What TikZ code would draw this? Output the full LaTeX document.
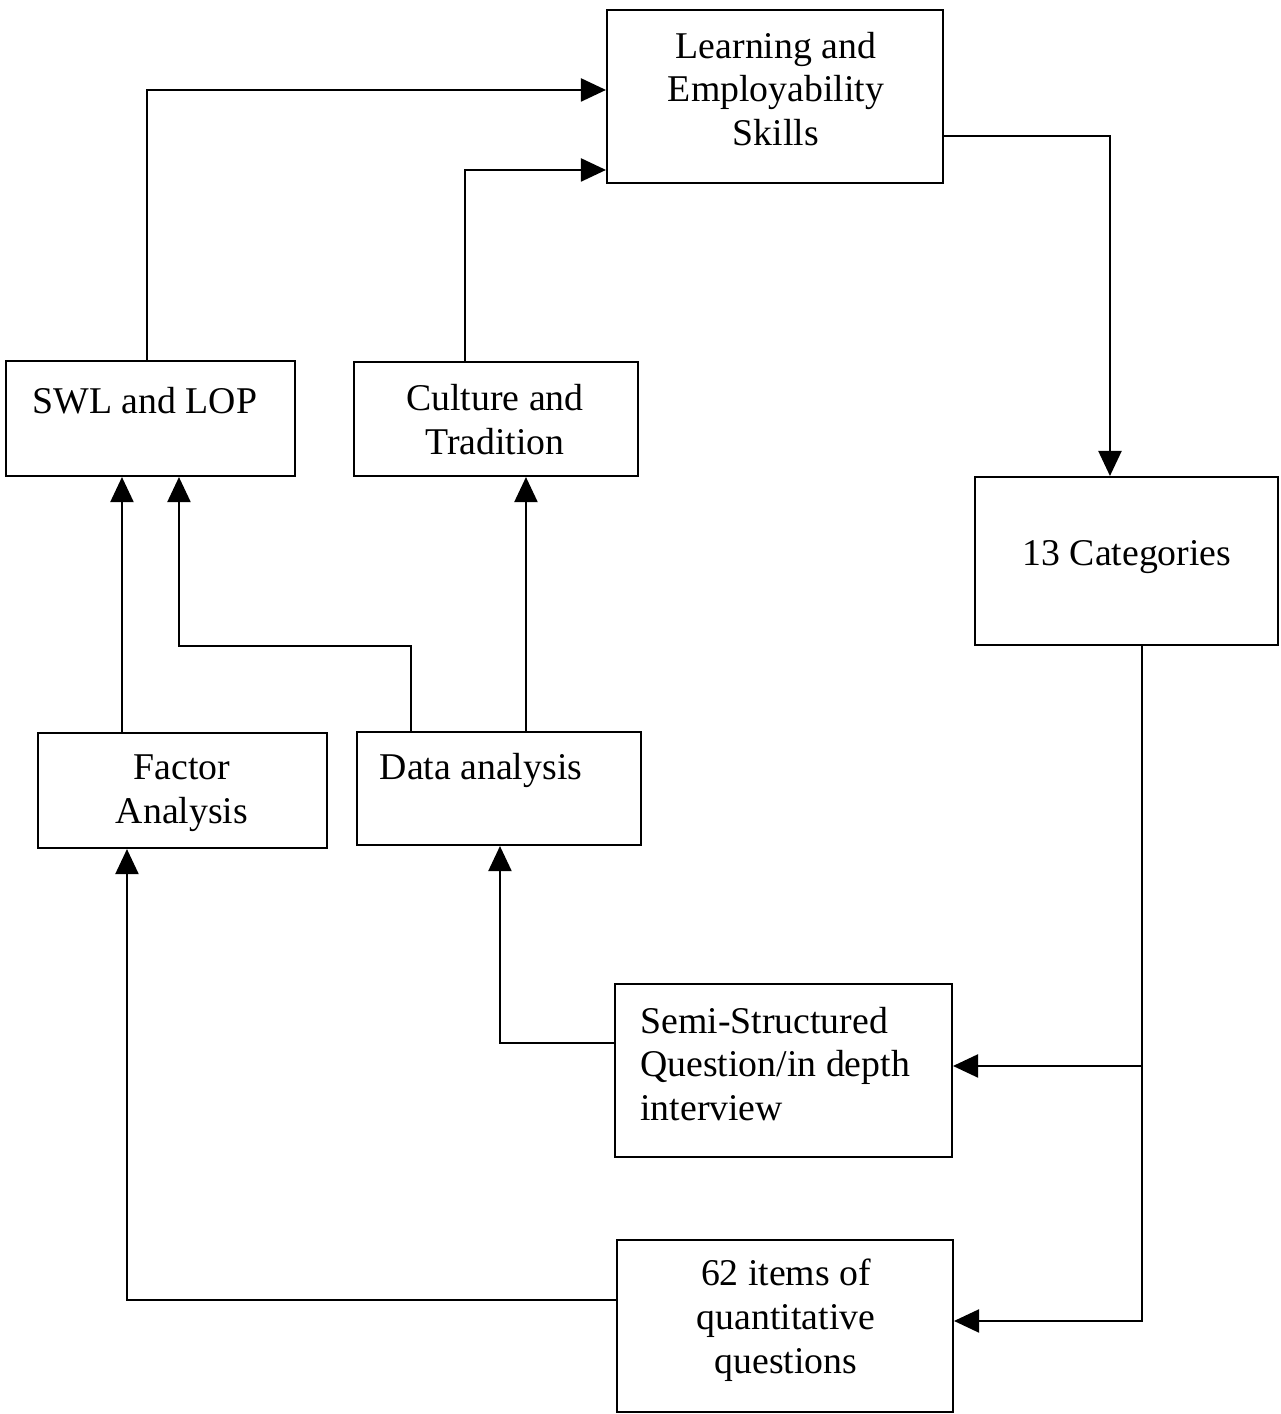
\documentclass[tikz,border=0pt]{standalone}
\usepackage{fontspec}
\setmainfont{Liberation Serif}
\usetikzlibrary{arrows.meta,calc}
\begin{document}
\begin{tikzpicture}[x=0.02cm,y=-0.02cm,
  box/.style={draw,line width=1.2pt,inner sep=0pt},
  lbl/.style={inner sep=0pt,align=center,font=\fontsize{21.5}{25}\selectfont},
  arr/.style={line width=1.2pt,-{Triangle[length=0.5cm,width=0.46cm]}}]
\useasboundingbox (0,0) rectangle (1281,1414);

% boxes
\node[box,minimum width=6.72cm,minimum height=3.46cm] (lrn) at (775,96.5) {};
\node[box,minimum width=5.78cm,minimum height=2.30cm] (swl) at (150.5,418.5) {};
\node[box,minimum width=5.68cm,minimum height=2.28cm] (cul) at (496,419) {};
\node[box,minimum width=6.06cm,minimum height=3.36cm] (cat) at (1126.5,561) {};
\node[box,minimum width=5.78cm,minimum height=2.30cm] (fac) at (182.5,790.5) {};
\node[box,minimum width=5.68cm,minimum height=2.26cm] (dat) at (499,788.5) {};
\node[box,minimum width=6.74cm,minimum height=3.46cm] (semi) at (783.5,1070.5) {};
\node[box,minimum width=6.72cm,minimum height=3.44cm] (items) at (785,1326) {};

% texts
\node[lbl] (lrnT) at (776,89) {Learning and\\Employability\\Skills};
\node[lbl] (swlT) at (145,401) {SWL and LOP};
\node[lbl] (culT) at (495,420) {Culture and\\Tradition};
\node[lbl] (catT) at (1127,557) {13 Categories};
\node[lbl] (facT) at (182,793) {Factor\\Analysis};
\node[lbl] (datT) at (481,770) {Data analysis};
\node[lbl,align=left,anchor=west] (semiT) at (640,1064) {Semi-Structured\\Question/in depth\\interview};
\node[lbl] (itemsT) at (786,1320) {62 items of\\quantitative\\questions};

% connectors
\draw[arr] ($(swl.north west)+(142,0)$) |- ($(lrn.north west)+(0,81)$);
\draw[arr] ($(cul.north west)+(112,0)$) |- ($(lrn.north west)+(0,161)$);
\draw[arr] ($(lrn.north east)+(0,127)$) -| ($(cat.north west)+(136,0)$);
\draw[arr] ($(cat.south west)+(168,0)$) |- ($(semi.north east)+(0,83)$);
\draw[arr] ($(cat.south west)+(168,0)$) |- ($(items.north east)+(0,82)$);
\draw[arr] ($(fac.north west)+(85,0)$) -- ($(swl.south west)+(117,0)$);
\draw[arr] ($(dat.north west)+(55,0)$) -- ++(0,-85) -| ($(swl.south west)+(174,0)$);
\draw[arr] ($(dat.north west)+(170,0)$) -- ($(cul.south west)+(173,0)$);
\draw[arr] ($(semi.north west)+(0,60)$) -| ($(dat.south west)+(144,0)$);
\draw[arr] ($(items.north west)+(0,61)$) -| ($(fac.south west)+(90,0)$);
\end{tikzpicture}
\end{document}
